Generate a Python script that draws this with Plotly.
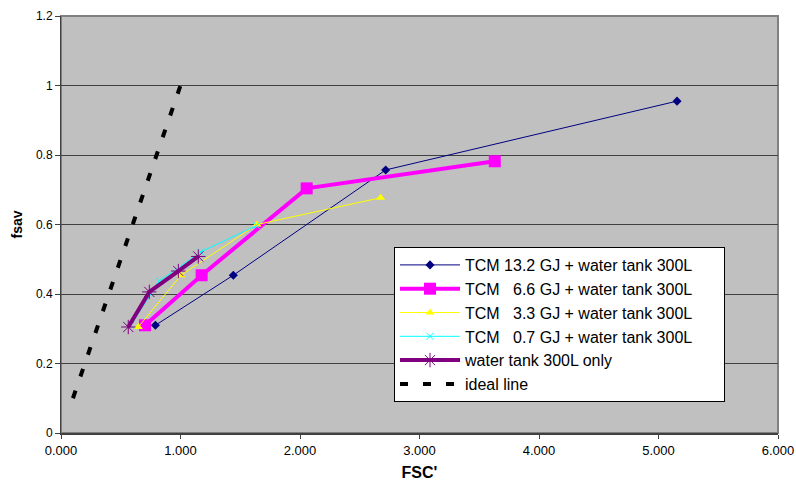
import plotly.graph_objects as go

# Data
x_tcm132 = [0.790, 1.442, 2.717, 5.155]
y_tcm132 = [0.310, 0.454, 0.757, 0.955]

x_tcm66 = [0.703, 1.177, 2.056, 3.630]
y_tcm66 = [0.310, 0.454, 0.704, 0.782]

x_tcm33 = [0.647, 1.004, 1.640, 2.675]
y_tcm33 = [0.305, 0.454, 0.600, 0.677]

x_tcm07 = [0.583, 0.823, 1.169, 1.637]
y_tcm07 = [0.310, 0.437, 0.521, 0.597]

x_tank = [0.563, 0.739, 0.982, 1.149]
y_tank = [0.305, 0.406, 0.466, 0.508]

x_ideal = [0.1, 1.0]
y_ideal = [0.1, 1.0]

x_ticks = [0, 1, 2, 3, 4, 5, 6]
y_ticks = [0, 0.2, 0.4, 0.6, 0.8, 1.0, 1.2]

pad = "\u00a0" * 6
names = [
    "TCM 13.2 GJ + water tank 300L" + pad,
    "TCM\u00a0\u00a0\u00a06.6 GJ + water tank 300L",
    "TCM\u00a0\u00a0\u00a03.3 GJ + water tank 300L",
    "TCM\u00a0\u00a0\u00a00.7 GJ + water tank 300L",
    "water tank 300L only",
    "ideal line",
]

fig = go.Figure()
fig.add_trace(go.Scatter(x=x_tcm132, y=y_tcm132, name=names[0], mode="lines+markers",
                         line=dict(color="#000080", width=1),
                         marker=dict(symbol="diamond", size=7, color="#000080")))
fig.add_trace(go.Scatter(x=x_tcm66, y=y_tcm66, name=names[1], mode="lines+markers",
                         line=dict(color="#FF00FF", width=4),
                         marker=dict(symbol="square", size=12, color="#FF00FF")))
fig.add_trace(go.Scatter(x=x_tcm33, y=y_tcm33, name=names[2], mode="lines+markers",
                         line=dict(color="#FFFF00", width=1),
                         marker=dict(symbol="triangle-up", size=8, color="#FFFF00")))
fig.add_trace(go.Scatter(x=x_tcm07, y=y_tcm07, name=names[3], mode="lines+markers",
                         line=dict(color="#00FFFF", width=1),
                         marker=dict(symbol="x-thin", size=7, color="#00FFFF",
                                     line=dict(color="#00FFFF", width=1))))
fig.add_trace(go.Scatter(x=x_tank, y=y_tank, name=names[4], mode="lines+markers",
                         line=dict(color="#800080", width=4),
                         marker=dict(symbol="asterisk-open", size=12, color="#800080",
                                     line=dict(color="#800080", width=1))))
fig.add_trace(go.Scatter(x=x_ideal, y=y_ideal, name=names[5], mode="lines",
                         line=dict(color="#000000", width=4, dash="8px,15px")))

L, R, T, B = 61, 18, 16, 56
pw, ph = 796 - L - R, 489 - T - B

fig.update_layout(
    width=796, height=489,
    margin=dict(l=L, r=R, t=T, b=B, autoexpand=False),
    paper_bgcolor="white",
    plot_bgcolor="#C0C0C0",
    font=dict(family="Liberation Sans, Arial, sans-serif", size=12, color="#000000"),
    showlegend=True,
    legend=dict(x=(394 - L) / pw, y=(489 - B - 247) / ph, xanchor="left", yanchor="top",
                bgcolor="white", bordercolor="#000000", borderwidth=1,
                font=dict(size=16, color="#000000"),
                tracegroupgap=0, itemwidth=60),
    xaxis=dict(range=[0, 6], tickvals=x_ticks, tickformat=".3f", automargin=False,
               tickfont=dict(size=13),
               showgrid=False, zeroline=False, showline=True, linecolor="#404040", linewidth=2,
               ticks="outside", ticklen=4, tickcolor="#404040",
               title=dict(text="<b>FSC'</b>", font=dict(size=16), standoff=10)),
    yaxis=dict(range=[0, 1.2], tickvals=y_ticks, automargin=False,
               tickfont=dict(size=12),
               showgrid=True, gridcolor="#404040", gridwidth=1, zeroline=False,
               showline=True, linecolor="#404040", linewidth=1,
               ticks="outside", ticklen=5, tickcolor="#404040",
               title=dict(text="<b>fsav</b>", font=dict(size=14), standoff=10)),
)
fig.add_shape(type="rect", xref="paper", yref="paper", x0=0, y0=0, x1=1, y1=1,
              line=dict(color="#808080", width=2), layer="below")

fig.write_html("out.html")
